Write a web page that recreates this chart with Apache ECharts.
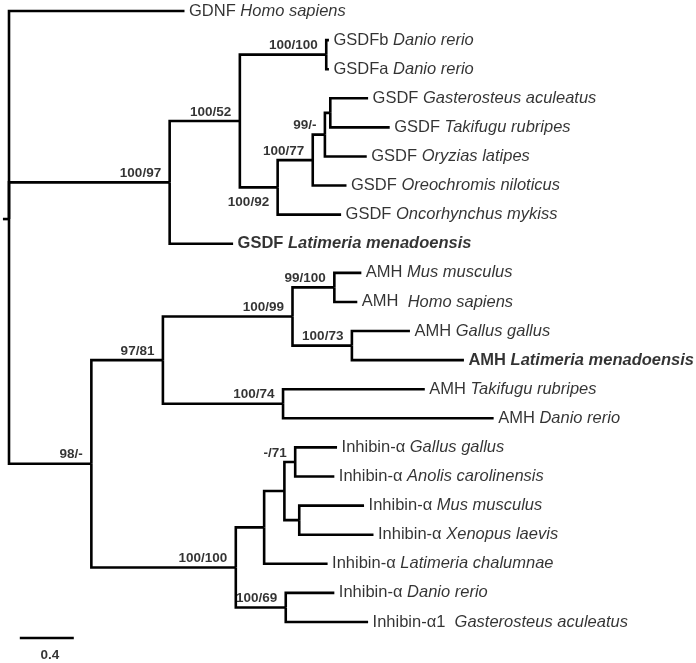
<!DOCTYPE html>
<html>
<head>
<meta charset="utf-8">
<script src="https://cdn.jsdelivr.net/npm/echarts@6/dist/echarts.min.js"></script>
<style>
  html, body { margin: 0; padding: 0; background: #fff; }
  #chart { width: 696px; height: 663px; }
</style>
</head>
<body>
<div id="chart"></div>
<script>
// leaves, top to bottom (row = index)
const leafGenes = ['GDNF', 'GSDFb', 'GSDFa', 'GSDF', 'GSDF', 'GSDF', 'GSDF', 'GSDF', 'GSDF',
  'AMH', 'AMH ', 'AMH', 'AMH', 'AMH', 'AMH',
  'Inhibin-α', 'Inhibin-α', 'Inhibin-α', 'Inhibin-α', 'Inhibin-α', 'Inhibin-α', 'Inhibin-α1 '];
const leafSpecies = ['Homo sapiens', 'Danio rerio', 'Danio rerio', 'Gasterosteus aculeatus',
  'Takifugu rubripes', 'Oryzias latipes', 'Oreochromis niloticus', 'Oncorhynchus mykiss',
  'Latimeria menadoensis', 'Mus musculus', 'Homo sapiens', 'Gallus gallus', 'Latimeria menadoensis',
  'Takifugu rubripes', 'Danio rerio', 'Gallus gallus', 'Anolis carolinensis', 'Mus musculus',
  'Xenopus laevis', 'Latimeria chalumnae', 'Danio rerio', 'Gasterosteus aculeatus'];
const leafBold = [8, 12];
// distance from root (substitutions/site)
const leafDepth = [1.30, 2.37, 2.37, 2.66, 2.82, 2.65, 2.50, 2.46, 1.66,
  2.61, 2.58, 2.97, 3.37, 3.08, 3.59,
  2.43, 2.41, 2.63, 2.70, 2.36, 2.41, 2.66];

// internal nodes
const nodeIds = ['root', 'n97', 'n52', 'n100a', 'n92', 'n77', 'n99', 'nGT', 'n98', 'n81',
  'n99b', 'n100b', 'n73', 'n74', 'n100c', 'nX', 'nY', 'n71', 'nZ', 'n69'];
const nodeDepth = [0, 1.19, 1.71, 2.35, 1.99, 2.25, 2.34, 2.38, 0.61, 1.14,
  2.10, 2.41, 2.54, 2.03, 1.68, 1.89, 2.04, 2.12, 2.15, 2.05];
const nodeChildren = [['L0', 'n97', 'n98'], ['n52', 'L8'], ['n100a', 'n92'], ['L1', 'L2'],
  ['n77', 'L7'], ['n99', 'L6'], ['nGT', 'L5'], ['L3', 'L4'], ['n81', 'n100c'], ['n99b', 'n74'],
  ['n100b', 'n73'], ['L9', 'L10'], ['L11', 'L12'], ['L13', 'L14'], ['nX', 'n69'], ['nY', 'L19'],
  ['n71', 'nZ'], ['L15', 'L16'], ['L17', 'L18'], ['L20', 'L21']];
const nodeSupport = ['', '100/97', '100/52', '100/100', '100/92', '100/77', '99/-', '', '98/-', '97/81',
  '100/99', '99/100', '100/73', '100/74', '100/100', '', '', '-/71', '', '100/69'];

const scaleBarLength = 0.4;

// positions of every node
const pos = {};
leafDepth.forEach((d, i) => { pos['L' + i] = [d, i]; });
function place(id) {
  if (pos[id]) return pos[id];
  const k = nodeIds.indexOf(id);
  const ys = nodeChildren[k].map((c) => place(c)[1]);
  pos[id] = [nodeDepth[k], ys.reduce((a, b) => a + b, 0) / ys.length];
  return pos[id];
}
place('root');

// branches as elbows
const branches = [];
nodeIds.forEach((id, k) => {
  const p = pos[id];
  nodeChildren[k].forEach((c) => {
    const q = pos[c];
    branches.push({ coords: [[p[0], p[1]], [p[0], q[1]], [q[0], q[1]]] });
  });
});
branches.push({ coords: [[-0.045, pos.root[1]], [0, pos.root[1]]] });
// scale bar
const barX = 0.08, barY = 21.55;
branches.push({ coords: [[barX, barY], [barX + scaleBarLength, barY]] });

const leafPoints = leafDepth.map((d, i) => ({
  value: [d, i],
  bold: leafBold.includes(i),
  gene: leafGenes[i],
  species: leafSpecies[i],
}));

const supportPoints = [];
nodeIds.forEach((id, k) => {
  if (nodeSupport[k]) supportPoints.push({ value: pos[id], text: nodeSupport[k], below: id === 'n92' });
});

const FS = 16.5;
const chart = echarts.init(document.getElementById('chart'));
chart.setOption({
  animation: false,
  backgroundColor: '#fff',
  grid: { left: 0, right: 0, top: 0, bottom: 0 },
  xAxis: { type: 'value', min: -0.0667, max: 5.089, show: false },
  yAxis: { type: 'value', min: -0.378, max: 22.41, inverse: true, show: false },
  series: [
    {
      type: 'lines',
      coordinateSystem: 'cartesian2d',
      polyline: true,
      silent: true,
      lineStyle: { color: '#000', width: 2.6, opacity: 1, join: 'miter', cap: 'butt' },
      data: branches,
    },
    {
      type: 'scatter',
      symbolSize: 1,
      itemStyle: { color: 'rgba(0,0,0,0)' },
      data: leafPoints.map((p) => ({
        value: p.value,
        label: {
          show: true,
          position: 'right',
          distance: 4,
          fontFamily: 'Liberation Sans',
          fontSize: FS,
          fontWeight: p.bold ? 'bold' : 'normal',
          color: '#000',
          formatter: p.bold ? `{gb|${p.gene}} {sb|${p.species}}` : `{g|${p.gene}} {s|${p.species}}`,
          rich: {
            g: { fontFamily: 'Liberation Sans', fontSize: FS, color: '#000' },
            s: { fontFamily: 'Liberation Sans', fontSize: FS, color: '#000', fontStyle: 'italic' },
            gb: { fontFamily: 'Liberation Sans', fontSize: FS, color: '#000', fontWeight: 'bold' },
            sb: { fontFamily: 'Liberation Sans', fontSize: FS, color: '#000', fontWeight: 'bold', fontStyle: 'italic' },
          },
        },
      })),
    },
    {
      type: 'scatter',
      symbolSize: 1,
      itemStyle: { color: 'rgba(0,0,0,0)' },
      data: supportPoints.map((p) => ({
        value: p.value,
        label: {
          show: true,
          position: 'left',
          distance: 8,
          offset: p.below ? [0, 15] : [0, -9],
          fontFamily: 'Liberation Sans',
          fontSize: 13.5,
          fontWeight: 'bold',
          color: '#000',
          formatter: p.text,
        },
      })),
    },
    {
      type: 'scatter',
      symbolSize: 1,
      itemStyle: { color: 'rgba(0,0,0,0)' },
      data: [{
        value: [barX + scaleBarLength / 2, barY],
        label: {
          show: true,
          position: 'bottom',
          distance: 10,
          offset: [3, 0],
          fontFamily: 'Liberation Sans',
          fontSize: 13.5,
          fontWeight: 'bold',
          color: '#000',
          formatter: String(scaleBarLength),
        },
      }],
    },
  ],
});
</script>
</body>
</html>
